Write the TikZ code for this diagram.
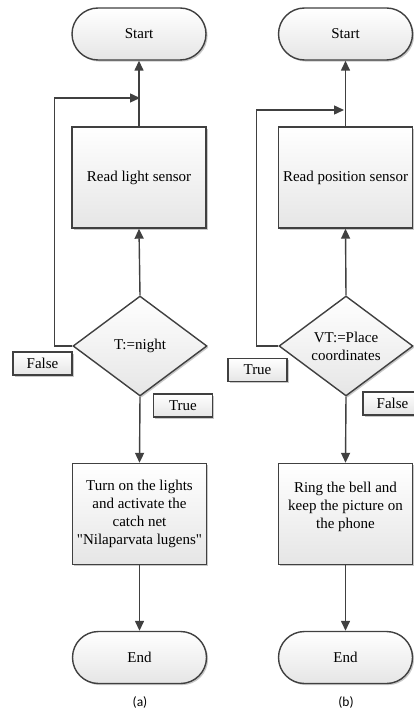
\documentclass[tikz,border=0pt]{standalone}
\usepackage{fontspec}
\setmainfont{Liberation Serif}[Ligatures=TeXOff]
\newfontfamily\capfont{Carlito}
\usetikzlibrary{shapes.geometric,shapes.misc,arrows.meta,shadows}
\begin{document}
\begin{tikzpicture}[x=1pt,y=-1pt,
  base/.style={draw=black!75, line width=1.4pt, top color=white, bottom color=black!10,
    drop shadow={shadow xshift=1.6pt,shadow yshift=-1.6pt,fill=black!30,opacity=0.7},
    font=\fontsize{15}{18}\selectfont, inner sep=0pt, align=center},
  term/.style={base, rounded rectangle, minimum width=134pt, minimum height=52pt},
  proc/.style={base, rectangle, minimum width=134pt, minimum height=101pt},
  dec/.style={base, diamond, minimum width=134pt, minimum height=100pt},
  lbl/.style={base, line width=1.1pt, minimum width=59pt, minimum height=23pt},
  flow/.style={draw=black!75, line width=1.4pt, -{Triangle[length=10pt,width=9pt]}},
  loopline/.style={draw=black!75, line width=1.4pt, -{Triangle[length=10pt,width=9pt]}},
  captxt/.style={font=\capfont\fontsize{13.5}{16}\selectfont, inner sep=0pt}
]
\useasboundingbox (0,0) rectangle (414,711);
\fill[white] (0,0) rectangle (414,711);

% ---------- (a) ----------
\node[term] (s1) at (139,34) {Start};
\node[proc] (r1) at (139,177.5) {Read light sensor};
\node[dec]  (d1) at (140,346) {T:=night};
\node[proc] (a1) at (139.5,514) {Turn on the lights\\and activate the\\catch net\\"Nilaparvata lugens"};
\node[term] (e1) at (139.5,657.5) {End};
\node[lbl]  (f1) at (42.5,363.5) {False};
\node[lbl]  (t1) at (183,405.5) {True};
\node[captxt]  (ca) at (140,702) {(a)};
\coordinate (j1) at (140,98);

\draw[flow] (r1.north) -- (s1.south);
\draw[flow] (d1.north) -- (r1.south);
\draw[flow] (d1.south) -- (a1.north);
\draw[flow] (a1.south) -- (e1.north);
\draw[loopline] (d1.west) -- ++(-18,0) |- (j1);

% ---------- (b) ----------
\node[term] (s2) at (345.5,34) {Start};
\node[proc] (r2) at (345.5,177.5) {Read position sensor};
\node[dec]  (d2) at (346,346) {VT:=Place\\coordinates};
\node[proc] (a2) at (345.5,514) {Ring the bell and\\keep the picture on\\the phone\\~};
\node[term] (e2) at (345.5,657.5) {End};
\node[lbl]  (t2) at (257.5,370) {True};
\node[lbl]  (f2) at (392.5,403.5) {False};
\node[captxt]  (cb) at (346,702) {(b)};
\coordinate (j2) at (344,110);

\draw[flow] (r2.north) -- (s2.south);
\draw[flow] (d2.north) -- (r2.south);
\draw[flow] (d2.south) -- (a2.north);
\draw[flow] (a2.south) -- (e2.north);
\draw[loopline] (d2.west) -- ++(-22,0) |- (j2);
\end{tikzpicture}
\end{document}
